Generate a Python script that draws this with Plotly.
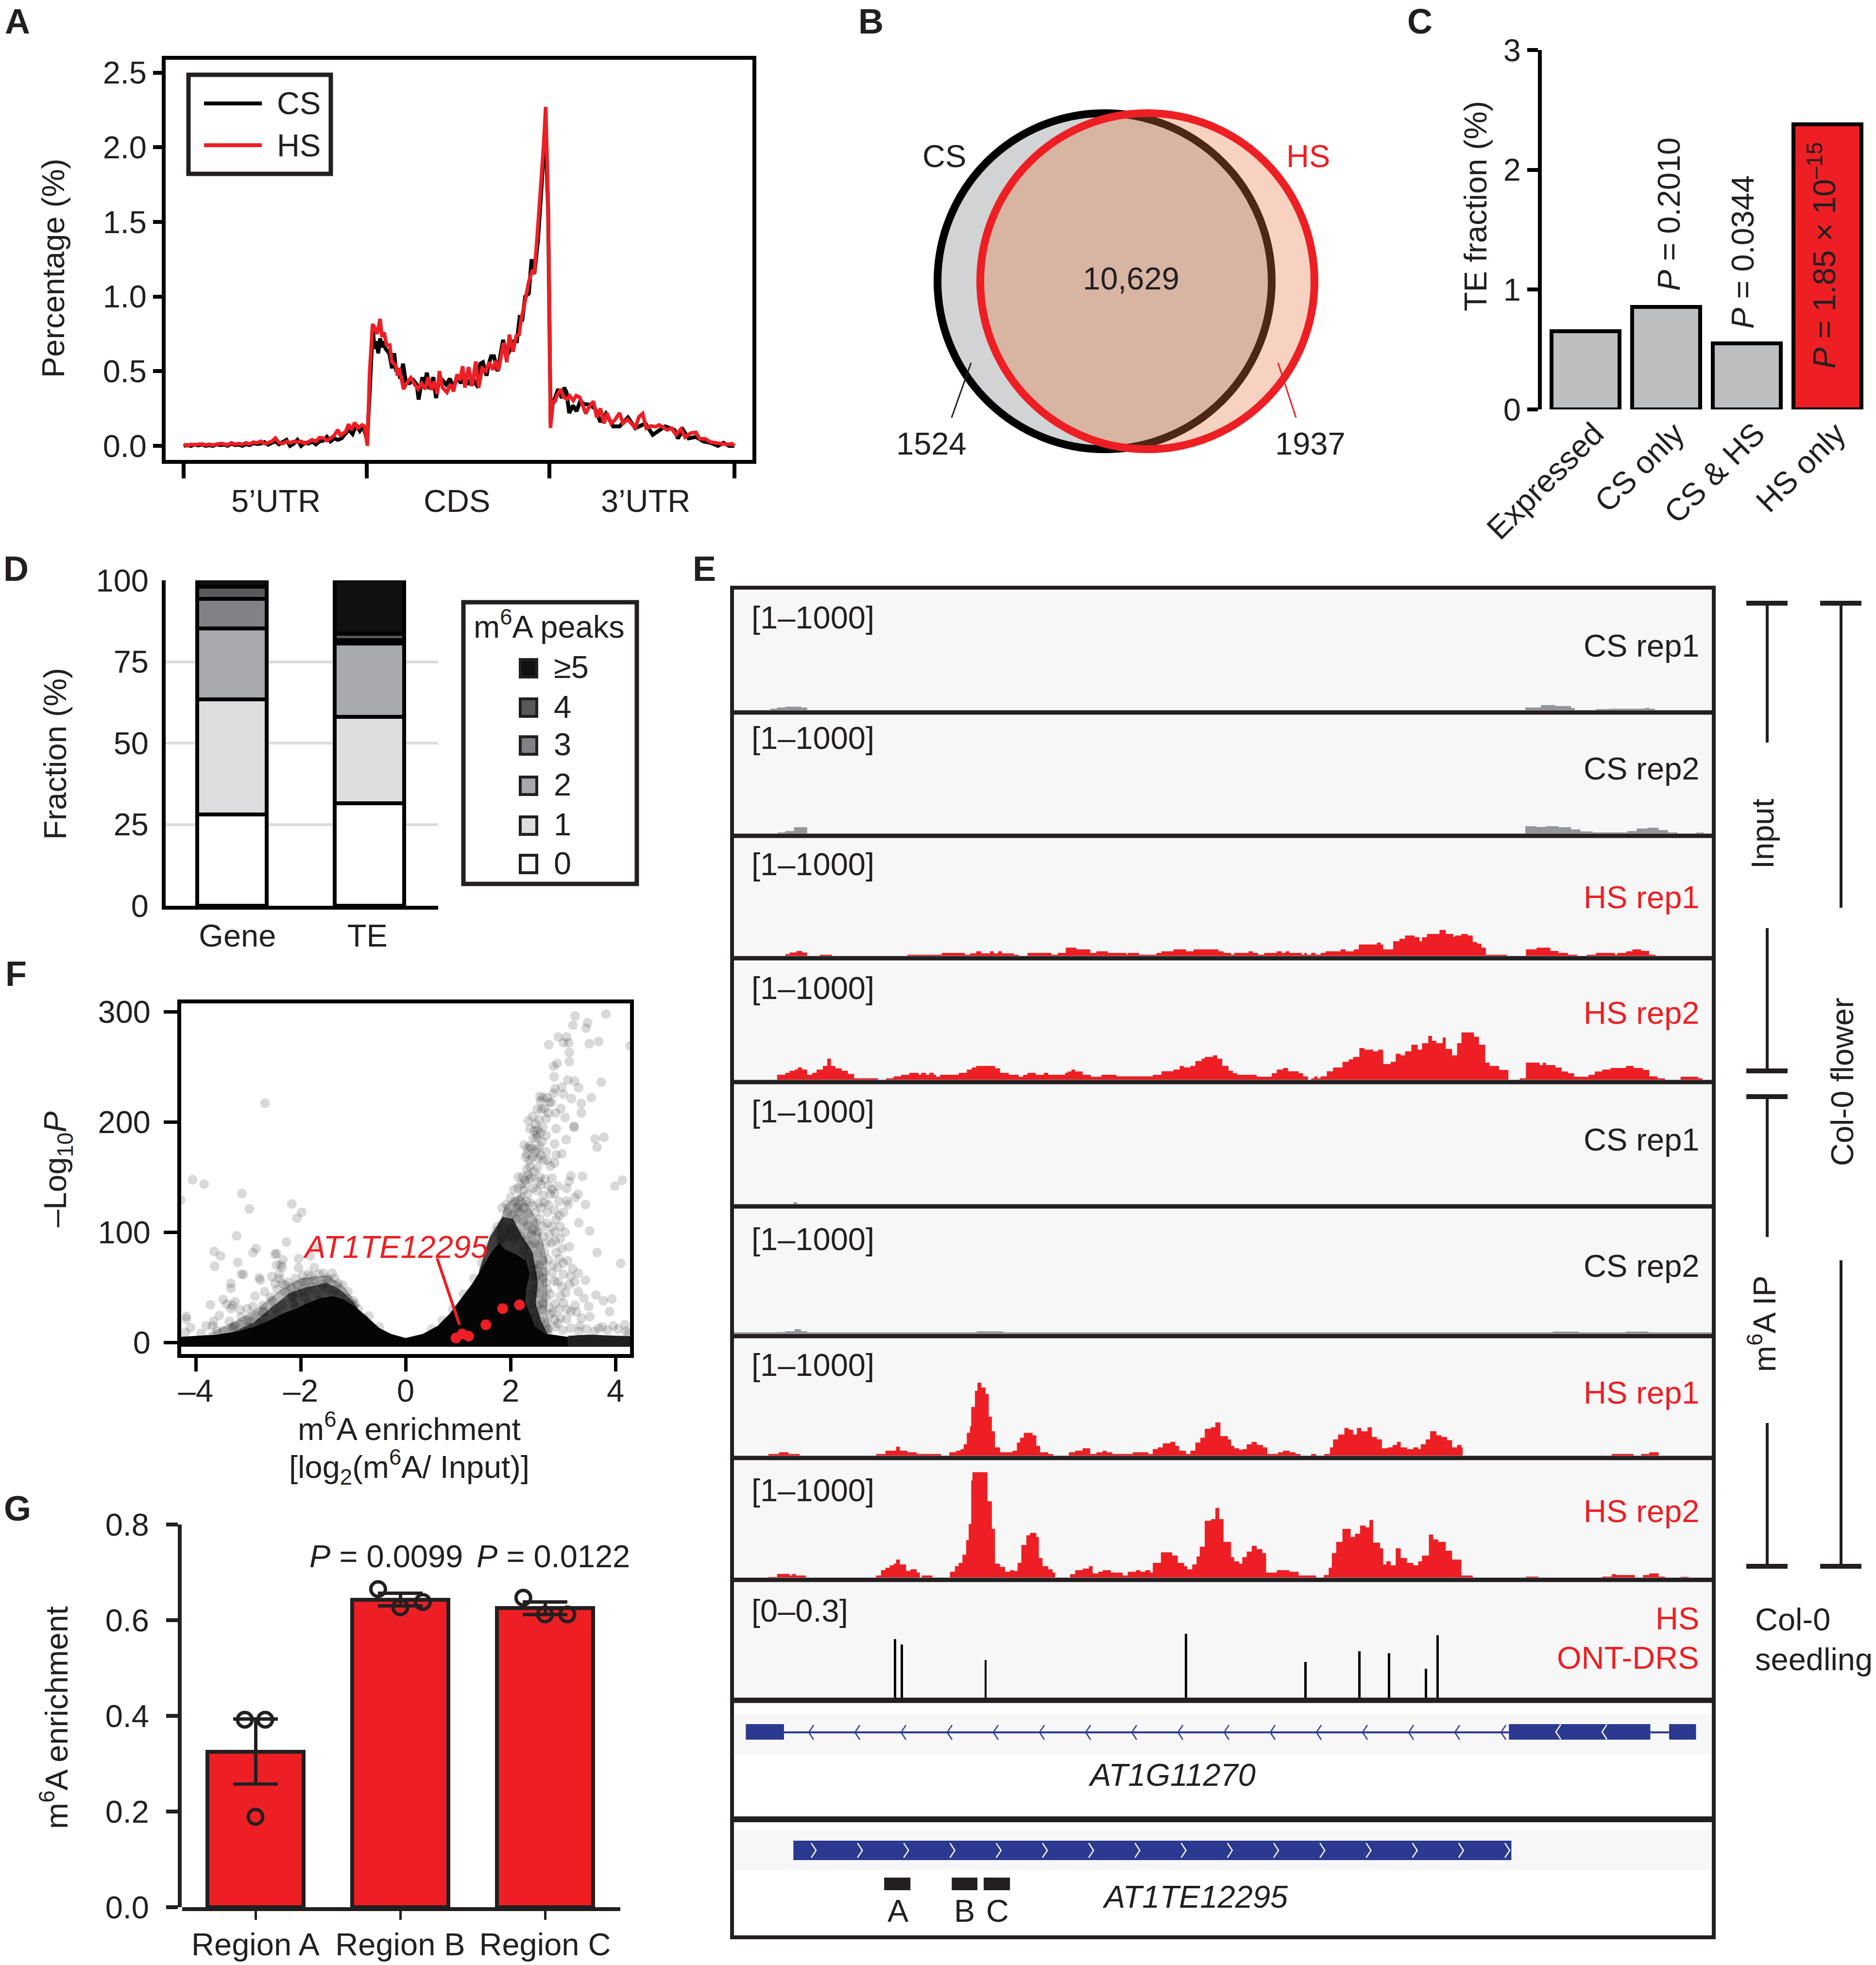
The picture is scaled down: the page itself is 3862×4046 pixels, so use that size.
import plotly.graph_objects as go

W, H = 3862, 4046
DK = "#231f20"
RED = "#ed1f24"
BLUE = "#2b3990"
FONT = "Liberation Sans"
FS = 65

# ---------- Panel A: metagene profile (position, percentage) ----------
A_TICKS = [0, 99.7, 199.3, 300]
A_REGIONS = ["5’UTR", "CDS", "3’UTR"]
A_Y_TICKS = [0.0, 0.5, 1.0, 1.5, 2.0, 2.5]
A_CS = [(0,.0),(2,.005),(4,.0),(6,.008),(8,.003),(10,.01),(12,.0),(14,.005),(16,.0),(18,.01),(20,.005),(22,.008),(24,.0),(26,.015),(28,.005),(30,.008),(32,.0),(34,.012),(36,.005),(38,.018),(40,.012),(42,.015),(44,.025),(46,.008),(48,.02),(50,.03),(52,.01),(54,.025),(56,.04),(58,.0),(60,.015),(62,.04),(64,.0),(66,.02),(68,.015),(70,.03),(72,.01),(74,.03),(76,.035),(78,.06),(80,.03),(82,.05),(84,.04),(86,.05),(88,.08),(90,.11),(92,.08),(94,.14),(96,.1),(98,.13),(100,.03),(101.6,.4),(103,.78),(104,.65),(105,.7),(106,.62),(107,.72),(108,.66),(109,.7),(110,.65),(112,.62),(113.5,.52),(114.7,.62),(115.7,.5),(116.7,.52),(118,.45),(119.5,.55),(121,.43),(123,.42),(125,.44),(127,.41),(128,.31),(130,.46),(131,.4),(132.5,.49),(134,.38),(136,.46),(137.5,.32),(139,.43),(141,.44),(143,.41),(145,.45),(147,.39),(149,.46),(151,.42),(153,.48),(155,.41),(157,.46),(159,.42),(160.5,.39),(161.5,.55),(163,.56),(165,.47),(166,.54),(167.5,.6),(169,.6),(171,.5),(173,.65),(174,.71),(176,.6),(178,.65),(180,.7),(181.5,.7),(183,.86),(184.5,.85),(186,1.0),(188,1.02),(189.5,1.25),(191,1.15),(193,1.38),(195,1.75),(197,2.15),(198.5,1.6),(199.3,.9),(199.9,.15),(201,.28),(202.5,.33),(204,.38),(206,.32),(207.3,.39),(208.5,.36),(210,.22),(212,.27),(214,.232),(216,.3),(218,.28),(221,.276),(224,.25),(227,.16),(230,.216),(234,.13),(237.4,.13),(242,.19),(246,.118),(251.5,.15),(255.5,.074),(259.4,.107),(262.3,.13),(267.3,.107),(269.2,.05),(272,.107),(275,.05),(279,.06),(283,.03),(287,.02),(291,.0),(294,.02),(297,.0),(300,.0)]
A_HS = [(0,.01),(2,.0),(4,.01),(6,.005),(8,.01),(10,.012),(12,.005),(14,.01),(16,.005),(18,.012),(20,.015),(22,.012),(24,.006),(26,.02),(28,.01),(30,.015),(32,.01),(34,.02),(36,.012),(38,.025),(40,.02),(42,.03),(44,.015),(46,.02),(48,.03),(50,.052),(52,.02),(54,.015),(56,.03),(58,.02),(60,.03),(62,.025),(64,.03),(66,.015),(68,.025),(70,.04),(72,.03),(74,.055),(76.5,.05),(78,.035),(80,.05),(82,.07),(84,.107),(85.4,.07),(88.3,.096),(89.9,.145),(91.3,.107),(93.2,.156),(94.8,.118),(97.2,.14),(98.6,.13),(100.1,.0),(101.3,.49),(102.9,.816),(104,.79),(105.4,.75),(107,.85),(108,.73),(109.2,.76),(110.5,.675),(112.3,.675),(113.3,.565),(115.5,.54),(116.5,.47),(117.4,.52),(119.8,.38),(121.4,.42),(123.7,.456),(125.7,.413),(127.7,.38),(129.6,.418),(131.6,.38),(133.2,.46),(134.9,.375),(136.5,.43),(138.1,.347),(139.3,.5),(141,.39),(143.4,.358),(145.4,.413),(147,.364),(148.9,.478),(150.5,.44),(152,.533),(153.2,.39),(155.2,.527),(157.1,.4),(159.1,.565),(160.7,.39),(162.6,.52),(164.6,.5),(166.4,.56),(168.5,.51),(169.9,.57),(171.5,.505),(174.2,.69),(176,.56),(177.4,.745),(179.4,.63),(181.1,.735),(182.7,.745),(183.9,.85),(185.5,.94),(188,1.1),(190,1.18),(191,1.15),(192.5,1.39),(194.5,1.7),(196,2.0),(197.2,2.27),(198.4,1.7),(199.3,.9),(199.8,.12),(201,.298),(202.4,.3),(203.3,.336),(205.3,.38),(206.9,.325),(208.9,.314),(210.2,.336),(212.2,.303),(213.8,.336),(215.7,.325),(217.1,.28),(219,.216),(221,.265),(223.2,.298),(225,.19),(227,.25),(229,.15),(230.5,.22),(232.8,.15),(234.8,.172),(237.4,.22),(239.3,.15),(241.7,.178),(243.6,.15),(246,.123),(248,.194),(250,.216),(252,.118),(254.5,.134),(257,.128),(259,.14),(261.3,.123),(263.3,.107),(265.7,.118),(268.2,.074),(270.8,.112),(273.1,.058),(276.1,.085),(279,.09),(281,.047),(284,.047),(287,.025),(290,.02),(292.8,.014),(295.8,.009),(298.7,.014),(300,.0)]

# ---------- Panel B: Venn counts ----------
VENN_CS_ONLY, VENN_BOTH, VENN_HS_ONLY = "1524", "10,629", "1937"

# ---------- Panel C ----------
C_CATS = ["Expressed", "CS only", "CS &amp; HS", "HS only"]
C_VALUES = [0.653, 0.855, 0.55, 2.38]
C_TICKS = [0, 1, 2, 3]

# ---------- Panel D ----------
D_CATS = ["Gene", "TE"]
D_LEVELS = ["0", "1", "2", "3", "4", "≥5"]
D_GENE = [28, 35.4, 21.8, 9.1, 3.7, 2]
D_TE = [31.5, 26.5, 22.6, 1, 2, 16.4]
D_COLORS = ["#ffffff", "#dcddde", "#a7a9ac", "#808285", "#58595b", "#111111"]
D_TICKS = [0, 25, 50, 75, 100]

# ---------- Panel F: volcano (log2 enrichment, -log10 P) ----------
F_BLACK = [(-4.315,5),(-3.6,7),(-3.2,10),(-2.9,14),(-2.63,19),(-2.46,23),(-2.3,27),(-2.07,31),(-1.9,35),(-1.63,40),(-1.4,42),(-1.18,39),(-.95,32),(-.73,23),(-.5,13),(-.28,7.7),(0,4),(.33,7.7),(.61,15),(.84,26),(1.06,40),(1.28,54),(1.5,71),(1.65,83),(1.78,90),(1.9,84),(2.1,80),(2.3,74),(2.36,62),(2.3,48),(2.28,36),(2.38,25),(2.46,15),(2.65,8),(3.1,5),(3.1,-4),(-4.315,-4)]
F_DARK_R = [(1.4,65),(1.6,95),(1.85,114),(2.05,112),(2.2,98),(2.42,82),(2.52,55),(2.48,35),(2.58,20),(2.72,6),(1.5,6)]
F_MID_R = [(1.73,100),(1.9,125),(2.2,135),(2.5,112),(2.7,75),(2.7,25),(2.8,8),(2,8)]
F_DARK_L = [(-3.3,9),(-2.9,18),(-2.55,32),(-2.2,45),(-1.9,50),(-1.5,54),(-1.25,48),(-1.0,37),(-.85,26),(-.8,16),(-2,10)]
F_MID_L = [(-3.8,7),(-3.3,18),(-2.8,32),(-2.4,47),(-2,58),(-1.5,61),(-1.2,52),(-.9,34),(-1,10)]
F_STRIP_R = [(3.1,-4),(3.1,6),(3.5,7),(4.315,5.5),(4.315,-4)]
F_DOTS = [(-2.68,217),(-4.06,147.6),(-3.84,143.5),(-4.29,129),(-3.12,135),(-2.98,121),(-2.17,125.6),(-1.98,118),(-2.07,112.7),(-3.22,96.7),(-2.27,91),(-3.65,82.5),(-3.53,78.4),(-3.64,69),(-3.2,72.6),(-2.85,85),(-2.91,81.5),(-2.49,80),(-2.46,80.5),(-2.04,76),(-2.04,67.6),(-1.65,85.7),(-1.82,78.4),(-2.34,75),(-2.38,70),(-2.35,68),(-2.46,70),(-3.13,61.7),(-3.09,61.7),(-2.79,58.6),(-2.77,56.5),(-3.33,53.4),(-3.33,49),(-2.55,59.7),(-2.41,61.7),(-2.41,57.6),(-2.49,53.4),(-2.35,53.4),(-2.24,54.5),(-2.3,46),(-2.69,46),(-2.87,42),(-2.58,41),(-3.48,38.9),(-3.72,34),(-3.41,34.7),(-3.3,33.7),(-3.25,36.8),(-3.33,30.6),(-3.16,29.5),(-3.55,24.3),(-4.18,23.7),(-4.18,21),(-4.1,13.3),(-3.8,15),(-3.66,19),(-3.68,15),(-3.47,10.8),(-3.36,19),(-3.13,23),(-3.02,30.6),(-2.91,32.6),(-2.72,33.7),(-2.72,27.4),(-2.49,30.6),(-2.46,26.4),(-3.25,15),(-2.97,19),(-2.8,17),(-2.63,22),(-2.35,33.7),(-2.16,41),(-2.1,32.6),(-1.96,60.7),(-1.85,61.7),(-1.74,68),(-1.57,62.8),(-1.4,62.8),(-1.46,56.5),(-1.29,53.4),(-1.9,54.5),(-1.74,56.5),(-2.07,52.4),(-2.18,50.3),(-1.79,50.3),(-1.96,47),(-1.57,50.3),(-1.49,48),(-2.16,43),(-1.93,41),(-1.68,44),(-1.4,44),(-1.26,43),(-1.12,40),(-.96,34.7),(-1.85,35.8),(-1.63,37.8),(-2.13,35.8),(-4.2,9),(-3.9,8),(-3.6,11),(-3.3,12),(-3.0,14),(-2.75,18),
 (3.23,296),(3.82,297.7),(3.47,290),(3.19,287.7),(3.44,285),(2.91,277),(3.07,277),(2.73,270),(3.01,271.7),(3.11,271.7),(3.5,271),(3.68,273),(4.28,269),(3.12,263),(3.12,254.7),(2.89,253),(2.82,250.5),(2.83,241),(3.09,238),(3.22,237),(3.73,236),(3.3,231),(2.98,231.6),(2.85,230),(2.82,226),(3.01,225),(3.16,221),(3.54,222),(2.56,223),(2.57,218.7),(2.74,217.7),(2.78,217.7),(3.35,216.6),(2.51,211.4),(2.59,211.4),(2.96,212),(2.86,208),(3.35,208),(3.04,204),(2.34,201),(2.68,203),(2.54,202),(3.21,196),(3.21,195),(2.48,198),(2.62,195),(2.87,193.8),(2.37,193.8),(2.5,188.6),(2.5,185.4),(2.68,187.5),(3.61,184.6),(3.78,186),(3.06,184),(3.65,177),(2.84,180),(2.26,179),(2.37,178),(2.68,173),(2.55,178),(2.47,172),(2.31,171),(2.98,171),(2.87,170),(2.53,166.7),(2.84,162.6),(2.37,159.5),(2.51,158.4),(2.31,157),(2.23,150),(2.15,150),(3.37,150.7),(3.15,151),(2.79,149),(2.56,150),(2.37,148),(3.12,146),(2.9,141.8),(4.13,147),(3.99,141.8),(2.54,146),(2.28,143.9),(2.06,138.7),(3.07,139.7),(2.79,138.7),(3.29,134.5),(2.2,132.4),(2.62,133.5),(2.76,134.5),(3.23,131.4),(2.0,131.4),(3.07,128.3),(3.43,125),(2.37,127),(2.54,126),(1.92,125),(1.84,122),(2.12,122),(3.1,125),(3.01,118),(2.7,118),(2.34,116.8),(2.17,118),(2.87,111.6),(3.3,108.5),(2.48,108.5),(3.51,101),(2.62,105),(2.79,105),(1.84,107.5),(1.98,104),(3.04,100),(1.73,101),(2.95,94),(2.4,98),(2.62,96),(1.84,94),(2.06,94),(3.65,81.5),(3.12,86.7),(4.1,71.7),(2.87,81.5),(2.51,80.5),(2.65,81.5),(2.93,76),(3.09,74),(2.51,67),(3.18,67),(3.29,62.8),(2.79,62.8),(3.01,61.7),(2.42,59.7),(3.43,56.5),(2.62,58.6),(2.84,55.5),(3.12,52.4),(3.29,46),(2.98,50.3),(2.56,44),(2.76,44),(3.63,43),(3.77,37.8),(3.93,39.3),(3.23,33.7),(3.49,32.6),(3.01,35.8),(2.54,33.7),(2.76,25.4),(3.51,23.3),(3.26,27.4),(3.89,27.9),(3.07,21),(2.9,17),(3.32,15),(3.68,12.9),(3.96,15),(4.18,16),(2.54,60.7),(2.68,54.5),(2.42,42),(2.62,35.8),(2.48,25),(2.74,31.6),(2.57,19),(2.84,21),(2.65,10.8),(2.72,12),(2.85,14),(3.0,11),(3.15,13),(3.3,10),(3.45,12),(3.6,10),(3.75,14),(3.85,11),(4.05,12),(4.2,10),(4.25,8),
 (2.42,205),(2.45,192),(2.52,193),(2.57,190),(2.6,182),(2.43,185),(2.4,176),(2.33,176),(2.29,168),(2.36,165),(2.42,168),(2.5,175),(2.58,170),(2.62,165),(2.7,165),(2.76,160),(2.45,155),(2.4,150),(2.33,152),(2.27,147),(2.2,143),(2.25,138),(2.33,135),(2.43,140),(2.5,138),(2.58,143),(2.66,148),(2.72,142),(2.84,135),(2.92,128),(2.14,140),(2.08,128),(2.15,125),(2.25,122),(2.3,128),(2.42,124),(2.48,118),(2.58,122),(2.65,127),(2.72,125),(2.84,120),(2.93,115),(1.95,118),(2.02,116),(2.1,112),(2.25,110),(2.32,106),(2.42,102),(2.52,100),(2.56,112),(2.7,108),(2.74,98),(2.85,100),(2.95,105),(1.9,100),(1.97,96),(2.03,103),(2.12,100),(2.2,96),(2.3,92),(2.38,88),(2.47,90),(2.55,88),(2.68,90),(2.78,90),(2.85,92),(2.98,85),(1.8,92),(1.75,88),(2.25,84),(2.35,78),(2.45,72),(2.55,70),(2.62,74),(2.72,75),(2.8,70),(2.9,68),(3.0,72),(2.42,66),(2.48,60),(2.55,52),(2.65,64),(2.7,48),(2.9,55),(2.95,42),(3.05,45),(3.15,60),(3.22,55),(3.08,30),(2.92,30),(2.85,35),(2.68,40),(2.6,30),(2.45,48),(2.4,34),(2.35,22),(2.45,16),(2.55,12),(2.7,18),(2.8,27),(2.95,22),(3.15,28),(3.35,22),(3.4,40),(2.65,212),(2.72,208),(2.62,222),(2.7,222),
 (-2.45,48),(-2.3,52),(-2.1,58),(-1.95,55),(-1.8,60),(-1.65,62),(-1.5,58),(-1.35,58),(-1.2,52),(-1.1,46),(-1,38),(-.9,30),(-.8,22),(-2.55,38),(-2.7,28),(-2.85,24),(-3.0,20),(-3.15,16),(-3.3,14),(-2.05,45),(-1.85,46),(-1.6,53),(-1.35,48),(.5,12),(.7,20),(.9,30),(1.1,44),(1.3,58),(1.45,72),(1.6,88),(1.68,96),(1.75,105),(-.5,14),(-.7,24)]
F_RED = [(.96,4),(1.08,7.7),(1.2,5.6),(1.53,16),(1.85,30.6),(2.17,34)]
F_X_TICKS, F_X_LABELS = [-4, -2, 0, 2, 4], ["–4", "–2", "0", "2", "4"]
F_Y_TICKS = [0, 100, 200, 300]

# ---------- Panel G ----------
G_CATS = ["Region A", "Region B", "Region C"]
G_VALUES = [0.325, 0.643, 0.625]
G_ERRORS = [0.068, 0.0135, 0.013]
G_REPS_X = [-.074, .067, 0, .847, 1, 1.156, 1.85, 2, 2.154]
G_REPS_Y = [.392, .392, .189, .665, .627, .638, .647, .612, .612]
G_TICKS = [0.0, 0.2, 0.4, 0.6, 0.8]

# ---------- Panel E: tracks (bin, signal) ----------
IN_CS1 = [(61,8),(72,16),(85,21),(110,16),(120,0),(1267,16),(1292,31),(1315,25),(1340,12),(1346,0),(1380,6),(1400,8),(1455,10),(1460,14),(1465,8),(1474,0)]
IN_CS2 = [(73,6),(85,14),(99,38),(120,0),(1267,44),(1285,40),(1300,44),(1320,38),(1340,25),(1355,12),(1375,6),(1430,14),(1445,30),(1462,35),(1480,20),(1495,6),(1510,0),(1540,5),(1552,0)]
IN_HS1 = [(85,10),(92,20),(103,30),(112,20),(120,0),(140,7),(160,0),(280,7),(335,18),(372,7),(380,15),(390,28),(398,15),(412,28),(418,15),(425,28),(431,15),(450,7),(458,0),(472,18),(510,7),(520,18),(533,50),(548,50),(550,40),(572,18),(582,28),(600,18),(630,7),(632,18),(650,7),(678,18),(686,28),(705,40),(725,28),(737,40),(777,28),(785,18),(797,7),(802,18),(825,28),(832,18),(840,7),(850,18),(870,28),(878,18),(884,28),(890,18),(910,7),(914,18),(918,7),(925,18),(932,7),(940,18),(948,28),(972,40),(980,28),(993,40),(1001,70),(1030,82),(1036,70),(1040,40),(1052,40),(1056,90),(1066,105),(1075,125),(1090,115),(1098,90),(1102,115),(1110,135),(1130,160),(1140,135),(1152,118),(1155,125),(1165,135),(1175,125),(1183,85),(1190,75),(1197,50),(1204,7),(1238,0),(1268,40),(1285,50),(1307,30),(1320,18),(1335,7),(1350,0),(1365,7),(1380,18),(1410,7),(1414,18),(1428,28),(1438,40),(1452,30),(1465,7),(1475,0)]
IN_HS2 = [(72,30),(85,42),(92,55),(100,62),(105,75),(112,62),(120,30),(128,42),(135,62),(145,85),(152,130),(158,85),(165,70),(175,55),(185,35),(195,8),(233,0),(246,8),(258,20),(270,30),(283,42),(298,30),(302,42),(310,30),(315,42),(322,30),(326,18),(332,30),(362,42),(375,62),(383,75),(390,85),(420,70),(428,42),(442,30),(458,18),(465,30),(472,42),(485,30),(498,42),(505,30),(532,42),(536,50),(542,62),(548,50),(560,30),(573,18),(590,30),(614,20),(672,30),(686,52),(705,62),(715,85),(722,75),(732,85),(740,115),(750,130),(755,140),(768,150),(775,130),(783,85),(793,55),(800,40),(807,30),(838,18),(862,40),(870,62),(880,72),(888,52),(905,40),(912,20),(920,0),(925,8),(930,20),(935,8),(940,20),(950,52),(960,75),(975,110),(985,125),(992,140),(1002,195),(1010,185),(1024,175),(1032,185),(1040,97),(1052,110),(1060,160),(1068,150),(1075,175),(1085,215),(1095,185),(1102,225),(1112,270),(1118,240),(1125,225),(1135,260),(1140,190),(1150,150),(1158,225),(1165,292),(1185,265),(1193,215),(1203,105),(1210,85),(1225,60),(1240,0),(1258,8),(1268,105),(1290,90),(1295,105),(1300,90),(1315,75),(1325,50),(1335,40),(1345,18),(1368,30),(1378,50),(1390,62),(1403,72),(1428,85),(1440,72),(1455,60),(1465,20),(1478,8),(1490,0),(1515,18),(1543,8),(1550,0)]
IP_CS1 = [(98,10),(104,0)]
IP_CS2 = [(0,8),(71,10),(85,15),(100,28),(110,15),(120,8),(391,14),(433,8),(1311,13),(1352,8),(1427,13),(1464,8),(1568,8)]
IP_HS1 = [(58,10),(75,20),(90,10),(108,0),(230,10),(245,30),(258,30),(262,55),(268,30),(280,20),(295,10),(334,0),(347,20),(358,30),(365,40),(370,70),(375,140),(380,180),(382,300),(388,400),(392,450),(398,420),(405,380),(410,240),(415,150),(420,50),(428,20),(448,30),(455,80),(460,110),(466,140),(480,125),(486,60),(492,20),(505,10),(513,0),(538,20),(548,30),(560,45),(572,10),(582,20),(592,30),(598,20),(607,10),(640,20),(665,10),(672,40),(680,50),(688,75),(700,85),(708,60),(714,30),(725,10),(732,30),(740,80),(748,110),(755,165),(765,175),(772,205),(780,120),(792,100),(797,60),(802,45),(810,35),(815,40),(822,70),(830,85),(838,65),(848,50),(855,10),(872,20),(880,30),(890,20),(900,10),(908,0),(925,10),(933,0),(946,10),(955,50),(960,100),(968,130),(978,170),(985,160),(992,130),(998,170),(1005,150),(1015,175),(1022,115),(1030,100),(1038,45),(1047,50),(1055,65),(1062,85),(1068,50),(1078,40),(1088,50),(1096,40),(1100,70),(1108,100),(1115,150),(1125,125),(1133,115),(1142,95),(1150,50),(1158,65),(1165,50),(1167,0),(1405,10),(1440,0),(1452,10),(1465,20),(1480,0)]
IP_HS2 = [(58,3),(72,22),(92,12),(96,22),(102,12),(118,0),(230,12),(238,45),(245,60),(252,75),(258,85),(262,110),(268,80),(278,40),(285,50),(295,30),(300,0),(303,12),(320,0),(345,0),(348,35),(356,70),(362,90),(368,140),(374,230),(378,330),(382,600),(384,650),(408,470),(415,300),(420,85),(428,65),(436,35),(444,45),(450,40),(456,90),(462,200),(470,260),(476,275),(486,250),(490,120),(496,70),(505,50),(512,30),(516,0),(540,20),(548,45),(560,55),(570,70),(576,25),(585,35),(592,45),(605,30),(624,12),(632,35),(645,45),(652,35),(660,45),(668,30),(672,90),(685,155),(703,135),(712,90),(722,70),(727,50),(735,80),(742,130),(747,190),(755,350),(765,360),(772,430),(778,360),(785,220),(797,125),(802,100),(810,85),(815,125),(822,160),(830,195),(838,175),(847,150),(853,30),(870,45),(890,35),(905,12),(925,12),(933,0),(945,15),(953,60),(958,150),(965,220),(975,300),(988,250),(995,270),(1003,320),(1012,310),(1018,355),(1024,215),(1035,180),(1040,80),(1045,100),(1052,75),(1060,180),(1068,120),(1078,90),(1088,75),(1096,100),(1102,135),(1113,265),(1120,235),(1128,220),(1140,165),(1150,110),(1165,12),(1183,0),(1268,5),(1288,0),(1390,5),(1405,20),(1412,15),(1442,0),(1455,15),(1465,25),(1480,5),(1490,0),(1515,4),(1528,0)]
DRS_BINS = [260, 271, 405, 725, 916, 1002, 1049, 1108, 1127]
DRS_VALUES = [.164, .149, .105, .178, .1, .13, .124, .081, .174]
TRACK_LABELS = ["CS rep1", "CS rep2", "HS rep1", "HS rep2", "CS rep1", "CS rep2", "HS rep1", "HS rep2"]
GENE_EXONS = [(22, 83), (1241, 1467), (1497, 1540)]
GENE_INTRONS = [(83, 1241), (1467, 1497)]
TE_SPAN = (98, 1245)
GENE_NAME, TE_NAME = "AT1G11270", "AT1TE12295"
AMPLICONS = ["A", "B", "C"]
AMPLICON_BINS = [(243, 285), (351, 392), (402, 444)]

fig = go.Figure()
layout = dict(width=W, height=H, margin=dict(l=0, r=0, t=0, b=0, pad=0), autosize=False,
              paper_bgcolor="white", plot_bgcolor="rgba(0,0,0,0)", showlegend=False,
              barmode="stack", font=dict(family=FONT, size=FS, color=DK), bargap=0)
shapes, notes = [], []


def px(x):
    return x / W


def py(y):
    return 1 - y / H


def text(x, y, s, size=FS, color=DK, anchor="center", angle=0):
    notes.append(dict(x=px(x), y=py(y), xref="paper", yref="paper", text=s, showarrow=False,
                      xanchor=anchor, yanchor="middle", textangle=angle,
                      font=dict(family=FONT, size=size, color=color)))


def line(x0, y0, x1, y1, color=DK, width=6, layer="above"):
    shapes.append(dict(type="line", xref="paper", yref="paper", x0=px(x0), x1=px(x1), y0=py(y0), y1=py(y1),
                       line=dict(color=color, width=width), layer=layer))


def rect(x0, y0, x1, y1, fill="rgba(0,0,0,0)", color="rgba(0,0,0,0)", width=0, layer="above"):
    shapes.append(dict(type="rect", xref="paper", yref="paper", x0=px(x0), x1=px(x1), y0=py(y0), y1=py(y1),
                       fillcolor=fill, line=dict(color=color, width=width), layer=layer))


def dom_x(l, r):
    return [px(l), px(r)]


def dom_y(t, b):
    return [py(b), py(t)]


def pairs(p):
    return [a for a, _ in p], [b for _, b in p]


base_axis = dict(showgrid=False, zeroline=False, showline=False, ticks="", showticklabels=False, fixedrange=True, automargin=False)
tick_font = dict(family=FONT, size=FS, color=DK)

# panel letters
for s, x, y in [("A", 36, 44), ("B", 1793, 44), ("C", 2923, 44), ("D", 33, 1171), ("E", 1450, 1171), ("F", 33, 2005), ("G", 36, 3106)]:
    text(x, y, "<b>%s</b>" % s, size=72)

# ---------- A ----------
l, r, t, b = 341, 1549, 123, 947
sx, sy = 3.78, 307.4
layout["xaxis"] = dict(base_axis, domain=dom_x(l, r), range=[(l - 378) / sx, (r - 378) / sx], showline=True, mirror=True,
                       linecolor="black", linewidth=8, ticks="outside", ticklen=30, tickwidth=8, tickcolor="black",
                       tickvals=A_TICKS, anchor="y")
layout["yaxis"] = dict(base_axis, domain=dom_y(t, b), range=[(918 - b) / sy, (918 - t) / sy], showline=True, mirror=True,
                       linecolor="black", linewidth=8, ticks="outside", ticklen=18, tickwidth=8, tickcolor="black",
                       tickvals=A_Y_TICKS, ticktext=["%.1f" % v for v in A_Y_TICKS], showticklabels=True,
                       tickfont=tick_font, anchor="x")
x_, y_ = pairs(A_CS)
fig.add_trace(go.Scatter(x=x_, y=y_, mode="lines", line=dict(color="black", width=8), xaxis="x", yaxis="y"))
x_, y_ = pairs(A_HS)
fig.add_trace(go.Scatter(x=x_, y=y_, mode="lines", line=dict(color=RED, width=7.5), xaxis="x", yaxis="y"))
for s, x in zip(A_REGIONS, [568, 940, 1329]):
    text(x, 1032, s)
text(110, 552, "Percentage (%)", angle=-90)
rect(388, 154, 681, 358, color=DK, width=9)
line(420, 213, 539, 213, color="black", width=8)
line(420, 299, 539, 299, color=RED, width=8)
text(615, 213, "CS")
text(615, 299, "HS")

# ---------- B ----------
shapes.append(dict(type="circle", xref="paper", yref="paper", x0=px(2274 - 344), x1=px(2274 + 344), y0=py(579 - 346), y1=py(579 + 346),
                   fillcolor="#d1d3d4", line=dict(color="black", width=16), layer="above"))
shapes.append(dict(type="circle", xref="paper", yref="paper", x0=px(2362 - 344), x1=px(2362 + 344), y0=py(579 - 346), y1=py(579 + 346),
                   fillcolor="rgba(230,118,64,0.33)", line=dict(color=RED, width=16), layer="above"))
line(1999, 747, 1959, 860, color=DK, width=3)
line(2631, 747, 2668, 860, color=RED, width=3)
text(1944, 321, "CS")
text(2693, 321, "HS", color=RED)
text(2328, 574, VENN_BOTH)
text(1917, 913, VENN_CS_ONLY)
text(2697, 913, VENN_HS_ONLY)

# ---------- C ----------
l, r, t, b = 3174, 3862, 103, 843
layout["xaxis2"] = dict(base_axis, domain=dom_x(l, r), range=[(l - 3264) / 166, (r - 3264) / 166],
                        tickvals=[v + .11 for v in C_TICKS], ticktext=C_CATS,
                        showticklabels=True, tickangle=-45, tickfont=tick_font, ticklabelstandoff=-2, anchor="y2")
layout["yaxis2"] = dict(base_axis, domain=dom_y(t, b), range=[0, 3], showline=True, linecolor="black", linewidth=8, ticks="outside",
                        ticklen=22, tickwidth=8, tickcolor="black", tickvals=[0, 1, 2, 3], showticklabels=True,
                        tickfont=tick_font, anchor="x2")
fig.add_trace(go.Bar(x=C_TICKS, y=C_VALUES, width=.845, xaxis="x2", yaxis="y2", cliponaxis=False,
                     marker=dict(color=["#bcbec0"] * 3 + [RED], line=dict(color="black", width=8))))
text(3038, 425, "TE fraction (%)", angle=-90)
text(3435, 441, "<i>P</i> = 0.2010", angle=-90)
text(3587, 519, "<i>P</i> = 0.0344", angle=-90)
text(3751, 526, "<i>P</i> = 1.85 × 10<sup>–15</sup>", angle=-90)

# ---------- D ----------
l, r, t, b = 341, 902, 1195, 1865
layout["xaxis3"] = dict(base_axis, domain=dom_x(l, r), range=[(l - 477.5) / 283, (r - 477.5) / 283], showline=True, linecolor="black", linewidth=8,
                        tickvals=[0.04, 0.985], ticktext=D_CATS, showticklabels=True, tickfont=tick_font, ticklabelstandoff=-2, anchor="y3")
layout["yaxis3"] = dict(base_axis, domain=dom_y(t, b), range=[0, 100], showline=True, linecolor="black", linewidth=8, showgrid=True,
                        gridcolor="#dcddde", gridwidth=6, tickvals=D_TICKS, showticklabels=True, tickfont=tick_font,
                        ticklabelstandoff=14, anchor="x3")
for i, lev in enumerate(D_LEVELS):
    fig.add_trace(go.Bar(x=[0, 1], y=[D_GENE[i], D_TE[i]], width=.505, xaxis="x3", yaxis="y3", cliponaxis=False,
                         marker=dict(color=D_COLORS[i], line=dict(color="black", width=8)), name=lev))
text(113, 1552, "Fraction (%)", angle=-90)
rect(954, 1240, 1311, 1820, color=DK, width=9)
text(1130, 1286, "m<sup>6</sup>A peaks")
for lev, col, y in zip(D_LEVELS[::-1], D_COLORS[::-1], [1376, 1457, 1535, 1618, 1700, 1779]):
    rect(1071, y - 18, 1105, y + 18, fill=col, color=DK, width=6)
    text(1138, y - 2, lev, anchor="left")

# ---------- F ----------
l, r, t, b = 373, 1297, 2066, 2788
sx, sy = 108, 2.27
layout["xaxis4"] = dict(base_axis, domain=dom_x(l, r), range=[(l - 835) / sx, (r - 835) / sx], showline=True, mirror=True, linecolor="black",
                        linewidth=8, ticks="outside", ticklen=28, tickwidth=7, tickcolor="black", tickvals=F_X_TICKS,
                        ticktext=F_X_LABELS, showticklabels=True, tickfont=tick_font, ticklabelstandoff=-16, anchor="y4")
layout["yaxis4"] = dict(base_axis, domain=dom_y(t, b), range=[(2764 - b) / sy, (2764 - t) / sy], showline=True, mirror=True, linecolor="black",
                        linewidth=8, ticks="outside", ticklen=28, tickwidth=7, tickcolor="black", tickvals=F_Y_TICKS,
                        showticklabels=True, tickfont=tick_font, ticklabelstandoff=14, anchor="x4")


def poly(p, fill):
    a, c = pairs(p)
    fig.add_trace(go.Scatter(x=a + a[:1], y=c + c[:1], mode="lines", fill="toself", fillcolor=fill,
                             line=dict(width=0, color=fill), xaxis="x4", yaxis="y4"))


poly(F_MID_L, "rgba(0,0,0,0.28)")
poly(F_MID_R, "rgba(0,0,0,0.28)")
poly(F_DARK_L, "rgba(0,0,0,0.62)")
poly(F_DARK_R, "rgba(0,0,0,0.72)")
x_, y_ = pairs(F_DOTS)
fig.add_trace(go.Scatter(x=x_, y=y_, mode="markers", marker=dict(size=20, color="rgba(0,0,0,0.15)", line=dict(width=0)),
                         xaxis="x4", yaxis="y4"))
poly(F_STRIP_R, "rgba(0,0,0,0.88)")
poly(F_BLACK, "#050505")
x_, y_ = pairs(F_RED)
fig.add_trace(go.Scatter(x=x_, y=y_, mode="markers", marker=dict(size=22, color=RED, line=dict(width=0)), xaxis="x4", yaxis="y4"))
text(814, 2567, "<i>AT1TE12295</i>", color=RED)
line(900, 2591, 946, 2728, color=RED, width=6)
text(118, 2408, "–Log<sub>10</sub><i>P</i>", angle=-90)
text(842, 2938, "m<sup>6</sup>A enrichment")
text(842, 3021, "[log<sub>2</sub>(m<sup>6</sup>A/ Input)]")

# ---------- G ----------
l, r, t, b = 375, 1277, 3139, 3927
layout["xaxis5"] = dict(base_axis, domain=dom_x(l, r), range=[(l - 526) / 298, (r - 526) / 298], showline=True, linecolor=DK, linewidth=8,
                        ticks="outside", ticklen=18, tickwidth=5, tickcolor=DK, tickvals=[0, 1, 2], ticktext=G_CATS,
                        showticklabels=True, tickfont=tick_font, ticklabelstandoff=-5, anchor="y5")
layout["yaxis5"] = dict(base_axis, domain=dom_y(t, b), range=[0, .8], showline=True, linecolor=DK, linewidth=8, anchor="free",
                        position=px(370), ticks="outside", ticklen=24, tickwidth=8, tickcolor=DK, tickvals=G_TICKS,
                        ticktext=["%.1f" % v for v in G_TICKS], showticklabels=True, tickfont=tick_font, ticklabelstandoff=22)
fig.add_trace(go.Bar(x=[0, 1, 2], y=G_VALUES, width=.664, xaxis="x5", yaxis="y5", cliponaxis=False,
                     marker=dict(color=RED, line=dict(color=DK, width=8)),
                     error_y=dict(type="data", array=G_ERRORS, color=DK, thickness=7, width=46)))
fig.add_trace(go.Scatter(x=G_REPS_X, y=G_REPS_Y, mode="markers", cliponaxis=False, xaxis="x5", yaxis="y5",
                         marker=dict(symbol="circle-open", size=30, color=DK, line=dict(width=7, color=DK))))
text(795, 3204, "<i>P</i> = 0.0099")
text(1139, 3204, "<i>P</i> = 0.0122")
text(112, 3537, "m<sup>6</sup>A enrichment", angle=-90)

# ---------- E ----------
EL, ER = 1507, 3528
SEPS = [1210, 1467, 1721, 1973, 2228, 2484, 2751, 3002, 3253, 3501, 3746, 3989]
layout["xaxis6"] = dict(base_axis, domain=dom_x(EL, ER), range=[0, 1568], anchor="y6")
tracks = [(IN_CS1, "#939598"), (IN_CS2, "#939598"), (IN_HS1, RED), (IN_HS2, RED),
          (IP_CS1, "#939598"), (IP_CS2, "#939598"), (IP_HS1, RED), (IP_HS2, RED)]
for i in range(9):
    rect(EL, SEPS[i], ER, SEPS[i + 1], fill="#f7f7f7", layer="below")
for i, (trk, col) in enumerate(tracks):
    bottom = SEPS[i + 1] - 5
    name = "yaxis%d" % (6 + i)
    layout[name] = dict(base_axis, domain=dom_y(bottom - 222, bottom), range=[0, 666], anchor="x6")
    x_, y_ = pairs(trk)
    fig.add_trace(go.Scatter(x=[x_[0]] + x_ + [x_[-1]], y=[0] + y_ + [0], mode="lines", fill="toself", fillcolor=col,
                             line=dict(shape="hv", width=0, color=col), xaxis="x6", yaxis="y%d" % (6 + i)))
bottom = SEPS[9] - 5
layout["yaxis14"] = dict(base_axis, domain=dom_y(bottom - 222, bottom), range=[0, .3], anchor="x6")
fig.add_trace(go.Bar(x=DRS_BINS, y=DRS_VALUES, width=3.8, marker=dict(color="black", line=dict(width=0)), xaxis="x6", yaxis="y14"))

rect(EL, 3530, ER, 3613, fill="#f7f7f7", layer="below")
rect(EL, 3768, ER, 3850, fill="#f7f7f7", layer="below")


def bin_px(v):
    return EL + v / 0.776


for a, c in GENE_EXONS:
    rect(bin_px(a), 3550, bin_px(c), 3582, fill=BLUE)
for a, c in GENE_INTRONS:
    line(bin_px(a), 3567, bin_px(c), 3567, color=BLUE, width=4)
rect(bin_px(TE_SPAN[0]), 3790, bin_px(TE_SPAN[1]), 3830, fill=BLUE)


def chevron(x, y, h, d, color):
    w = 5 * d
    shapes.append(dict(type="path", xref="paper", yref="paper",
                       path="M %f %f L %f %f L %f %f" % (px(x - w), py(y - h), px(x + w), py(y), px(x - w), py(y + h)),
                       line=dict(color=color, width=2.5), fillcolor="rgba(0,0,0,0)", layer="above"))


for k in range(16):
    chevron(1670 + k * 95, 3567, 15, -1, BLUE)
for k in range(2):
    chevron(3208 + k * 95, 3566, 15, -1, "white")
for k in range(16):
    chevron(1675 + k * 95.2, 3810, 15, 1, "white")
for (a, c), s in zip(AMPLICON_BINS, AMPLICONS):
    rect(bin_px(a), 3866, bin_px(c), 3892, fill=DK)
for s, x in zip(AMPLICONS, [1849, 1986, 2053]):
    text(x, 3934, s)
text(2412, 3654, "<i>%s</i>" % GENE_NAME)
text(2460, 3905, "<i>%s</i>" % TE_NAME)

for y in [1271, 1519, 1779, 2034, 2288, 2551, 2810, 3068]:
    text(1545, y, "[1–1000]", anchor="left")
text(1545, 3316, "[0–0.3]", anchor="left")
for s, y, col in zip(TRACK_LABELS, [1329, 1582, 1847, 2085, 2346, 2606, 2867, 3111],
                     [DK, DK, RED, RED, DK, DK, RED, RED]):
    text(3500, y, s, color=col, anchor="right")
text(3500, 3332, "HS", color=RED, anchor="right")
text(3500, 3413, "ONT-DRS", color=RED, anchor="right")
for y in SEPS[1:11]:
    line(EL, y, ER, y, color=DK, width=9)
line(EL, 3501, ER, 3501, color=DK, width=11)
line(EL, 3746, ER, 3746, color=DK, width=12)
rect(EL, 1210, ER, 3989, color=DK, width=8)

# side brackets
line(3638, 1242, 3638, 1529, width=6)
line(3595, 1242, 3680, 1242, width=10)
line(3790, 1242, 3790, 1869, width=6)
line(3747, 1242, 3832, 1242, width=10)
line(3638, 1911, 3638, 2205, width=6)
line(3595, 2205, 3680, 2205, width=10)
line(3638, 2258, 3638, 2547, width=6)
line(3595, 2258, 3680, 2258, width=10)
line(3638, 2930, 3638, 3225, width=6)
line(3595, 3225, 3680, 3225, width=10)
line(3790, 2595, 3790, 3225, width=6)
line(3747, 3225, 3832, 3225, width=10)
text(3628, 1717, "Input", angle=-90)
text(3628, 2726, "m<sup>6</sup>A IP", angle=-90)
text(3792, 2228, "Col-0 flower", angle=-90)
text(3611, 3334, "Col-0", anchor="left")
text(3611, 3416, "seedling", anchor="left")

layout["shapes"] = shapes
layout["annotations"] = notes
fig.update_layout(**layout)
fig.write_html("out.html", config=dict(displayModeBar=False), post_script="document.body.style.margin='0';")
